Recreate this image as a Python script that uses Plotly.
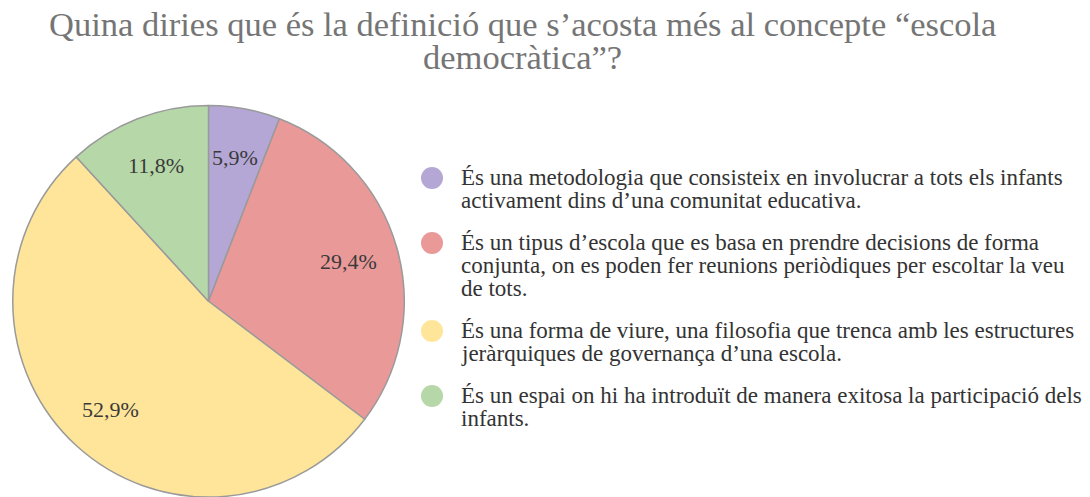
import math
import plotly.graph_objects as go

labels = [
    "És una metodologia que consisteix en involucrar a tots els infants<br>activament dins d’una comunitat educativa.",
    "És un tipus d’escola que es basa en prendre decisions de forma<br>conjunta, on es poden fer reunions periòdiques per escoltar la veu<br>de tots.",
    "És una forma de viure, una filosofia que trenca amb les estructures<br>jeràrquiques de governança d’una escola.",
    "És un espai on hi ha introduït de manera exitosa la participació dels<br>infants.",
]
values = [5.9, 29.4, 52.9, 11.8]
colors = ["#b4a7d6", "#ea9999", "#ffe599", "#b6d7a8"]
title_lines = ["Quina diries que és la definició que s’acosta més al concepte “escola",
               "democràtica”?"]

FONT = "Liberation Serif, Times New Roman, serif"
W, H = 1090, 497


def px(x):
    return x / W


def py(y):
    return 1 - y / H


# pie placement (page pixels): centre (208.5, 302.5), radius 197
PIE_CX, PIE_CY, PIE_R = 208.5, 302.5, 197
dom_x = [px(PIE_CX - PIE_R), px(PIE_CX + PIE_R)]
dom_y = [max(0.0, py(PIE_CY + PIE_R)), py(PIE_CY - PIE_R)]

fig = go.Figure()
fig.add_trace(go.Pie(
    labels=labels,
    values=values,
    sort=False,
    direction="clockwise",
    rotation=0,
    marker=dict(colors=colors, line=dict(color="#9a9a9a", width=1.5)),
    textinfo="none",
    showlegend=False,
    domain=dict(x=dom_x, y=dom_y),
    hoverinfo="label+percent",
))

# actual pie geometry from the domain (the paper clips the bottom)
cx_real = (dom_x[0] + dom_x[1]) / 2 * W
cy_real = (1 - (dom_y[0] + dom_y[1]) / 2) * H
r_real = min((dom_x[1] - dom_x[0]) * W, (dom_y[1] - dom_y[0]) * H) / 2

annotations = []
shapes = []

# slice labels, placed from the values along each slice's mid-angle
total = sum(values)
cum = 0.0
for v in values:
    mid = (cum + v / 2) / total * 2 * math.pi
    cum += v
    rr = 0.745 * r_real
    lx = cx_real + rr * math.sin(mid)
    ly = cy_real - rr * math.cos(mid)
    annotations.append(dict(
        x=px(lx), y=py(ly), xref="paper", yref="paper",
        text=f"{v:.1f}%".replace(".", ","), showarrow=False,
        xanchor="center", yanchor="middle",
        font=dict(family=FONT, size=22, color="#3a3a3a"),
    ))

# title
title_y = [24, 57]
for line, ty in zip(title_lines, title_y):
    annotations.append(dict(
        x=px(522), y=py(ty), xref="paper", yref="paper",
        text=line, showarrow=False, xanchor="center", yanchor="middle",
        borderpad=0,
        font=dict(family=FONT, size=34.5, color="#757575"),
    ))

# legend
leg_marker_x = 432
leg_text_x = 459
line_h = 23
item_gap = 19
y = 177
for lab, col in zip(labels, colors):
    lines = lab.split("<br>")
    shapes.append(dict(
        type="circle", xref="paper", yref="paper",
        xsizemode="pixel", ysizemode="pixel",
        xanchor=px(leg_marker_x), yanchor=py(y + 1),
        x0=-11, x1=11, y0=-11, y1=11,
        fillcolor=col, line=dict(width=0),
    ))
    for i, ln in enumerate(lines):
        annotations.append(dict(
            x=px(leg_text_x), y=py(y + i * line_h), xref="paper", yref="paper",
            text=ln, showarrow=False, xanchor="left", yanchor="middle",
            font=dict(family=FONT, size=23, color="#333333"),
        ))
    y += len(lines) * line_h + item_gap

fig.update_layout(
    width=W, height=H,
    margin=dict(l=0, r=0, t=0, b=0),
    paper_bgcolor="white", plot_bgcolor="white",
    font=dict(family=FONT, color="#333333"),
    annotations=annotations,
    shapes=shapes,
    showlegend=False,
)

fig.write_html("out.html", config={"displayModeBar": False},
               post_script="document.body.style.margin='0';")
